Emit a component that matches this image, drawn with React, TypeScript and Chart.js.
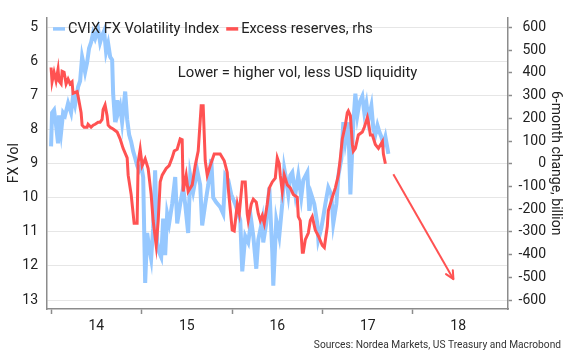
import React, { useEffect, useRef } from 'react';
import { Chart, registerables } from 'chart.js';

Chart.register(...registerables);

// CVIX FX Volatility Index (left axis, reversed)
const cvixDates = [2014.000, 2014.011, 2014.033, 2014.055, 2014.077, 2014.088, 2014.111, 2014.133, 2014.155, 2014.188, 2014.221, 2014.243, 2014.265, 2014.299, 2014.321, 2014.343, 2014.354, 2014.376, 2014.398, 2014.420, 2014.442, 2014.465, 2014.487, 2014.520, 2014.542, 2014.564, 2014.586, 2014.608, 2014.631, 2014.653, 2014.675, 2014.686, 2014.708, 2014.730, 2014.741, 2014.763, 2014.785, 2014.819, 2014.841, 2014.863, 2014.885, 2014.907, 2014.929, 2014.951, 2014.973, 2014.996, 2015.018, 2015.040, 2015.062, 2015.084, 2015.106, 2015.128, 2015.150, 2015.173, 2015.195, 2015.217, 2015.239, 2015.261, 2015.283, 2015.305, 2015.338, 2015.372, 2015.394, 2015.427, 2015.460, 2015.482, 2015.515, 2015.538, 2015.571, 2015.615, 2015.648, 2015.670, 2015.704, 2015.737, 2015.770, 2015.792, 2015.825, 2015.869, 2015.903, 2015.925, 2015.958, 2015.991, 2016.035, 2016.069, 2016.091, 2016.113, 2016.146, 2016.179, 2016.212, 2016.235, 2016.268, 2016.290, 2016.334, 2016.345, 2016.378, 2016.412, 2016.445, 2016.456, 2016.489, 2016.522, 2016.555, 2016.577, 2016.600, 2016.622, 2016.644, 2016.666, 2016.699, 2016.732, 2016.765, 2016.788, 2016.832, 2016.854, 2016.876, 2016.909, 2016.942, 2016.954, 2016.987, 2017.009, 2017.031, 2017.064, 2017.097, 2017.119, 2017.153, 2017.175, 2017.208, 2017.230, 2017.252, 2017.285, 2017.308, 2017.330, 2017.341, 2017.363, 2017.385, 2017.407, 2017.440, 2017.462, 2017.485, 2017.507, 2017.540, 2017.562, 2017.584, 2017.607, 2017.629, 2017.651, 2017.673, 2017.695, 2017.728];
const cvixValues = [8.49, 7.50, 7.42, 7.87, 8.40, 7.58, 8.07, 7.50, 7.58, 7.22, 7.50, 7.02, 7.27, 6.74, 6.57, 5.86, 6.00, 6.31, 6.03, 5.61, 5.44, 5.16, 5.32, 5.04, 5.44, 5.24, 5.10, 5.72, 5.47, 5.86, 5.95, 6.94, 7.78, 7.13, 7.50, 7.30, 7.78, 6.88, 7.70, 8.15, 8.35, 8.63, 8.83, 9.05, 9.19, 9.05, 9.39, 12.50, 11.03, 11.46, 11.79, 10.89, 9.19, 11.31, 11.60, 11.74, 10.61, 11.68, 10.47, 10.75, 10.18, 9.39, 10.75, 10.18, 9.70, 10.18, 11.03, 9.34, 9.82, 9.19, 9.62, 10.81, 10.18, 9.62, 8.86, 9.99, 10.13, 10.27, 10.47, 9.34, 9.48, 9.90, 10.18, 10.47, 10.66, 12.16, 11.12, 11.31, 10.66, 11.12, 12.08, 11.23, 10.66, 11.31, 10.75, 9.70, 11.60, 12.58, 10.66, 11.12, 10.18, 9.14, 9.48, 9.90, 9.34, 9.25, 9.90, 9.34, 9.99, 9.48, 9.25, 10.38, 9.90, 10.18, 10.75, 11.23, 10.89, 10.55, 10.18, 9.70, 9.90, 10.75, 10.18, 9.34, 8.86, 7.78, 8.35, 7.78, 9.90, 8.49, 7.78, 6.94, 7.58, 7.22, 7.02, 7.50, 7.22, 7.70, 7.30, 7.98, 8.15, 7.87, 8.07, 8.21, 8.43, 8.21, 8.71];

// Excess reserves, 6-month change, billion (right axis)
const reservesDates = [2014.000, 2014.011, 2014.033, 2014.055, 2014.077, 2014.088, 2014.111, 2014.122, 2014.144, 2014.166, 2014.188, 2014.210, 2014.232, 2014.243, 2014.288, 2014.299, 2014.332, 2014.343, 2014.365, 2014.398, 2014.409, 2014.442, 2014.465, 2014.487, 2014.520, 2014.542, 2014.564, 2014.575, 2014.597, 2014.619, 2014.631, 2014.653, 2014.686, 2014.730, 2014.763, 2014.796, 2014.841, 2014.852, 2014.885, 2014.918, 2014.951, 2014.962, 2014.985, 2015.007, 2015.040, 2015.073, 2015.106, 2015.128, 2015.162, 2015.184, 2015.206, 2015.228, 2015.272, 2015.305, 2015.338, 2015.361, 2015.394, 2015.427, 2015.449, 2015.460, 2015.493, 2015.515, 2015.560, 2015.593, 2015.626, 2015.659, 2015.681, 2015.704, 2015.726, 2015.759, 2015.803, 2015.869, 2015.914, 2015.947, 2015.958, 2016.002, 2016.024, 2016.058, 2016.080, 2016.113, 2016.146, 2016.168, 2016.179, 2016.212, 2016.235, 2016.268, 2016.290, 2016.312, 2016.334, 2016.356, 2016.389, 2016.412, 2016.445, 2016.478, 2016.500, 2016.522, 2016.533, 2016.555, 2016.577, 2016.611, 2016.644, 2016.677, 2016.721, 2016.732, 2016.754, 2016.777, 2016.788, 2016.810, 2016.843, 2016.865, 2016.887, 2016.920, 2016.954, 2016.998, 2017.020, 2017.053, 2017.064, 2017.108, 2017.142, 2017.175, 2017.197, 2017.219, 2017.252, 2017.274, 2017.285, 2017.308, 2017.330, 2017.341, 2017.363, 2017.396, 2017.440, 2017.462, 2017.496, 2017.507, 2017.529, 2017.551, 2017.584, 2017.618, 2017.662, 2017.673, 2017.695];
const reservesValues = [424, 361, 403, 365, 416, 365, 352, 407, 403, 352, 373, 352, 361, 310, 318, 297, 225, 170, 161, 161, 174, 161, 170, 174, 183, 183, 195, 238, 259, 212, 170, 161, 153, 140, 110, 68, 26, -50, -135, -262, -262, 5, 64, -8, 22, -21, -135, -250, -360, -250, -80, -50, -21, -8, 26, 56, 64, 110, 106, -122, -50, -122, -93, -8, 56, 255, 255, 13, -50, -8, 43, 43, 13, -38, -106, -292, -296, -178, -220, -80, -80, -220, -250, -178, -156, -169, -220, -250, -228, -262, -178, -106, -80, -63, 26, 0, -50, -122, -50, -93, -106, -135, -148, -233, -250, -390, -390, -334, -305, -250, -233, -292, -318, -360, -369, -275, -207, -148, -106, -50, 26, 110, 170, 225, 233, 212, 85, 56, 68, 127, 140, 161, 204, 183, 127, 127, 85, 68, 98, 43, 0];

// Projection arrow (right axis)
const arrowDates = [2017.783, 2018.447];
const arrowValues = [-46, -508];

const leftTicks = [5, 6, 7, 8, 9, 10, 11, 12, 13];
const rightTicks = [-600, -500, -400, -300, -200, -100, 0, 100, 200, 300, 400, 500, 600];
const yearTicks = [2014, 2015, 2016, 2017, 2018];
const yearLabels = ['14', '15', '16', '17', '18'];

const BLUE = '#96C8FF';
const RED = '#FF5252';
const AXIS = '#8c8c8c';
const GRID = '#e6e6e6';
const TEXT = '#222222';
const FONT = 'Roboto';

const overlay = {
  id: 'overlay',
  afterDatasetsDraw(chart: any) {
    const ctx = chart.ctx;
    const meta = chart.getDatasetMeta(2);
    const pts = meta.data;
    if (pts && pts.length >= 2) {
      const a = pts[pts.length - 2];
      const b = pts[pts.length - 1];
      const ang = Math.atan2(b.y - a.y, b.x - a.x);
      const L = 9;
      ctx.save();
      ctx.strokeStyle = RED;
      ctx.lineWidth = 2;
      ctx.lineCap = 'round';
      ctx.lineJoin = 'round';
      ctx.beginPath();
      ctx.moveTo(b.x - L * Math.cos(ang - 0.45), b.y - L * Math.sin(ang - 0.45));
      ctx.lineTo(b.x, b.y);
      ctx.lineTo(b.x - L * Math.cos(ang + 0.45), b.y - L * Math.sin(ang + 0.45));
      ctx.stroke();
      ctx.restore();
    }
  },
  afterDraw(chart: any) {
    const ctx = chart.ctx;
    const ca = chart.chartArea;
    ctx.save();
    ctx.fillStyle = TEXT;
    ctx.textBaseline = 'middle';
    ctx.font = `14.6px ${FONT}`;
    // legend
    const ly = ca.top + 11.5;
    let x = ca.left + 6;
    const items = [
      { label: 'CVIX FX Volatility Index', color: BLUE },
      { label: 'Excess reserves, rhs', color: RED },
    ];
    items.forEach((it) => {
      ctx.strokeStyle = it.color;
      ctx.lineWidth = 3.5;
      ctx.beginPath();
      ctx.moveTo(x, ly);
      ctx.lineTo(x + 12, ly);
      ctx.stroke();
      ctx.textAlign = 'left';
      ctx.fillText(it.label, x + 15, ly);
      x = x + 15 + ctx.measureText(it.label).width + 7;
    });
    // annotation
    ctx.font = `14.8px ${FONT}`;
    ctx.textAlign = 'center';
    ctx.fillText('Lower = higher vol, less USD liquidity', ca.left + 250.5, ca.top + 56);
    // axis titles
    ctx.font = `14px ${FONT}`;
    const cy = (ca.top + ca.bottom) / 2;
    ctx.save();
    ctx.translate(14, cy);
    ctx.rotate(-Math.PI / 2);
    ctx.textAlign = 'center';
    ctx.fillText('FX Vol', 0, 0);
    ctx.restore();
    ctx.save();
    ctx.translate(555, cy);
    ctx.rotate(Math.PI / 2);
    ctx.textAlign = 'center';
    ctx.fillText('6-month change, billion', 0, 0);
    ctx.restore();
    // sources
    ctx.font = `10.2px ${FONT}`;
    ctx.textAlign = 'right';
    ctx.fillStyle = '#333333';
    ctx.fillText('Sources: Nordea Markets, US Treasury and Macrobond', 561, 345);
    ctx.restore();
  },
};

export default function App() {
  const ref = useRef<HTMLCanvasElement | null>(null);

  useEffect(() => {
    if (!ref.current) return;
    const xTickValues = yearTicks
      .flatMap((y) => [y, y + 0.5])
      .sort((a, b) => a - b);

    const chart = new Chart(ref.current, {
      type: 'line',
      data: {
        datasets: [
          {
            label: 'CVIX FX Volatility Index',
            data: cvixDates.map((d, i) => ({ x: d, y: cvixValues[i] })),
            borderColor: BLUE,
            backgroundColor: BLUE,
            borderWidth: 4,
            pointRadius: 0,
            tension: 0,
            yAxisID: 'y',
            order: 2,
          },
          {
            label: 'Excess reserves, rhs',
            data: reservesDates.map((d, i) => ({ x: d, y: reservesValues[i] })),
            borderColor: RED,
            backgroundColor: RED,
            borderWidth: 3,
            pointRadius: 0,
            tension: 0,
            yAxisID: 'y2',
            order: 1,
          },
          {
            label: 'arrow',
            data: arrowDates.map((d, i) => ({ x: d, y: arrowValues[i] })),
            borderColor: RED,
            backgroundColor: RED,
            borderWidth: 2,
            pointRadius: 0,
            tension: 0,
            yAxisID: 'y2',
            order: 0,
          },
        ],
      },
      options: {
        responsive: false,
        animation: false,
        devicePixelRatio: 1,
        layout: { padding: { top: 6, right: 24, left: 0, bottom: 0 } },
        plugins: {
          legend: { display: false },
          tooltip: { enabled: false },
        },
        scales: {
          x: {
            type: 'linear',
            position: 'bottom',
            min: 2013.955,
            max: 2019.05,
            afterBuildTicks: (scale: any) => {
              scale.ticks = xTickValues.map((v) => ({ value: v }));
            },
            afterFit: (scale: any) => {
              scale.height = 51;
            },
            grid: {
              drawOnChartArea: false,
              drawTicks: true,
              tickLength: 5,
              tickColor: (c: any) =>
                c.tick && yearTicks.includes(c.tick.value) ? AXIS : 'rgba(0,0,0,0)',
              tickWidth: 1.5,
            },
            border: { display: true, color: AXIS, width: 1.5 },
            ticks: {
              autoSkip: false,
              maxRotation: 0,
              padding: 4,
              color: TEXT,
              font: { family: FONT, size: 14 },
              callback: (value: any) => {
                const i = yearTicks.indexOf(Number(value) - 0.5);
                return i >= 0 ? yearLabels[i] : '';
              },
            },
          },
          y: {
            type: 'linear',
            position: 'left',
            reverse: true,
            min: 4.703,
            max: 13.263,
            afterBuildTicks: (scale: any) => {
              scale.ticks = leftTicks.map((v) => ({ value: v }));
            },
            afterFit: (scale: any) => {
              scale.width = 47;
            },
            grid: {
              drawOnChartArea: true,
              drawTicks: false,
              color: GRID,
              lineWidth: 1,
            },
            border: { display: true, color: AXIS, width: 1.5 },
            ticks: {
              padding: 9,
              color: TEXT,
              font: { family: FONT, size: 14 },
            },
          },
          y2: {
            type: 'linear',
            position: 'right',
            min: -639.5,
            max: 644.6,
            afterBuildTicks: (scale: any) => {
              scale.ticks = rightTicks.map((v) => ({ value: v }));
            },
            afterFit: (scale: any) => {
              scale.width = 38;
            },
            grid: {
              drawOnChartArea: false,
              drawTicks: true,
              tickLength: 4,
              tickColor: AXIS,
              tickWidth: 1.5,
            },
            border: { display: true, color: AXIS, width: 1.5 },
            ticks: {
              crossAlign: 'far',
              color: TEXT,
              font: { family: FONT, size: 14 },
            },
          },
        },
      },
      plugins: [overlay],
    } as any);

    return () => {
      chart.destroy();
    };
  }, []);

  return (
    <div style={{ position: 'absolute', left: 0, top: 0, width: 570, height: 360, background: '#fff' }}>
      <canvas ref={ref} width={570} height={360} style={{ display: 'block', width: 570, height: 360 }} />
    </div>
  );
}
